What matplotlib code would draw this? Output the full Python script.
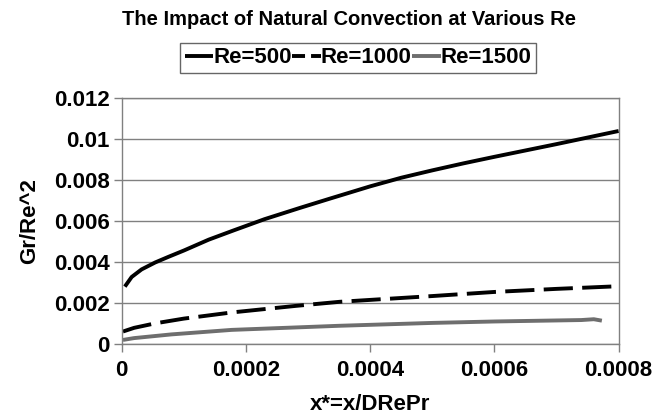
import matplotlib
matplotlib.use('Agg')
import matplotlib.pyplot as plt
from matplotlib.lines import Line2D
from matplotlib.ticker import FixedLocator

plt.rcParams['font.family'] = ['Liberation Sans', 'DejaVu Sans']
plt.rcParams['font.weight'] = 'bold'

# Datos
x_500 = [0.000005, 0.000016, 0.000032, 0.000054, 0.000075, 0.000100, 0.000140, 0.000180,
         0.000230, 0.000287, 0.000335, 0.000400, 0.000450, 0.000500, 0.000550, 0.000600,
         0.000650, 0.000700, 0.000750, 0.000800]
y_500 = [0.00281, 0.00328, 0.00365, 0.00399, 0.00426, 0.00457, 0.00510, 0.00555,
         0.00610, 0.00665, 0.00710, 0.00770, 0.00812, 0.00848, 0.00882, 0.00914,
         0.00945, 0.00976, 0.01008, 0.01040]

x_1000 = [0.000002, 0.000020, 0.000054, 0.000100, 0.000177, 0.000280, 0.000351, 0.000420,
          0.000500, 0.000600, 0.000700, 0.000800]
y_1000 = [0.00062, 0.00080, 0.00102, 0.00125, 0.00155, 0.00187, 0.00207, 0.00220,
          0.00235, 0.00255, 0.00270, 0.00283]

x_1500 = [0.000002, 0.000020, 0.000080, 0.000177, 0.000350, 0.000500, 0.000600, 0.000700,
          0.000740, 0.000760, 0.000773]
y_1500 = [0.00021, 0.00030, 0.00048, 0.00070, 0.00090, 0.00104, 0.00111, 0.00116,
          0.00118, 0.00122, 0.00115]

xticks = [0, 0.0002, 0.0004, 0.0006, 0.0008]
xtick_labels = ['0', '0.0002', '0.0004', '0.0006', '0.0008']
yticks = [0, 0.002, 0.004, 0.006, 0.008, 0.01, 0.012]
ytick_labels = ['0', '0.002', '0.004', '0.006', '0.008', '0.01', '0.012']

fig = plt.figure(figsize=(6.67, 4.16), dpi=100)
ax = fig.add_axes([0.1825, 0.1725, 0.745, 0.5915])

ax.plot(x_500, y_500, color='black', lw=2.8, solid_capstyle='butt')
ax.plot(x_1000, y_1000, color='black', lw=2.8, dashes=(7.5, 2.4), dash_capstyle='butt')
ax.plot(x_1500, y_1500, color='#6e6e6e', lw=2.8, solid_capstyle='butt')

ax.set_xlim(0, 0.0008)
ax.set_ylim(0, 0.012)
ax.xaxis.set_major_locator(FixedLocator(xticks))
ax.yaxis.set_major_locator(FixedLocator(yticks))
ax.set_xticklabels(xtick_labels, fontsize=16, fontweight='bold')
ax.set_yticklabels(ytick_labels, fontsize=16, fontweight='bold')
ax.tick_params(direction='out', length=5.5, color='#808080', width=1)
ax.tick_params(axis='x', pad=6)
ax.tick_params(axis='y', pad=3)
ax.grid(axis='y', color='#808080', lw=1)
ax.set_axisbelow(True)
for s in ax.spines.values():
    s.set_color('#808080')
    s.set_linewidth(1)

ax.set_xlabel('x*=x/DRePr', fontsize=16, fontweight='bold', labelpad=9)
ax.set_ylabel('Gr/Re^2', fontsize=16, fontweight='bold', labelpad=10)

fig.text(0.1825, 0.953, 'The Impact of Natural Convection at Various Re',
         ha='left', va='center', fontsize=14.5, fontweight='bold')

# Leyenda estilo Excel
handles = [Line2D([], [], color='black', lw=2.8, solid_capstyle='butt'),
           Line2D([], [], color='black', lw=2.8, dashes=(3.35, 1.55), dash_capstyle='butt'),
           Line2D([], [], color='#6e6e6e', lw=2.8, solid_capstyle='butt')]
labels = ['Re=500', 'Re=1000', 'Re=1500']
leg = fig.legend(handles, labels, loc='upper left', bbox_to_anchor=(0.270, 0.897), ncol=3,
                 frameon=True, fancybox=False, handlelength=1.3, handletextpad=0.0,
                 columnspacing=0.0, borderpad=0.2, borderaxespad=0,
                 prop={'size': 16, 'weight': 'bold'})
leg.get_frame().set_edgecolor('#404040')
leg.get_frame().set_linewidth(1)

plt.savefig('out.png', dpi=100)
